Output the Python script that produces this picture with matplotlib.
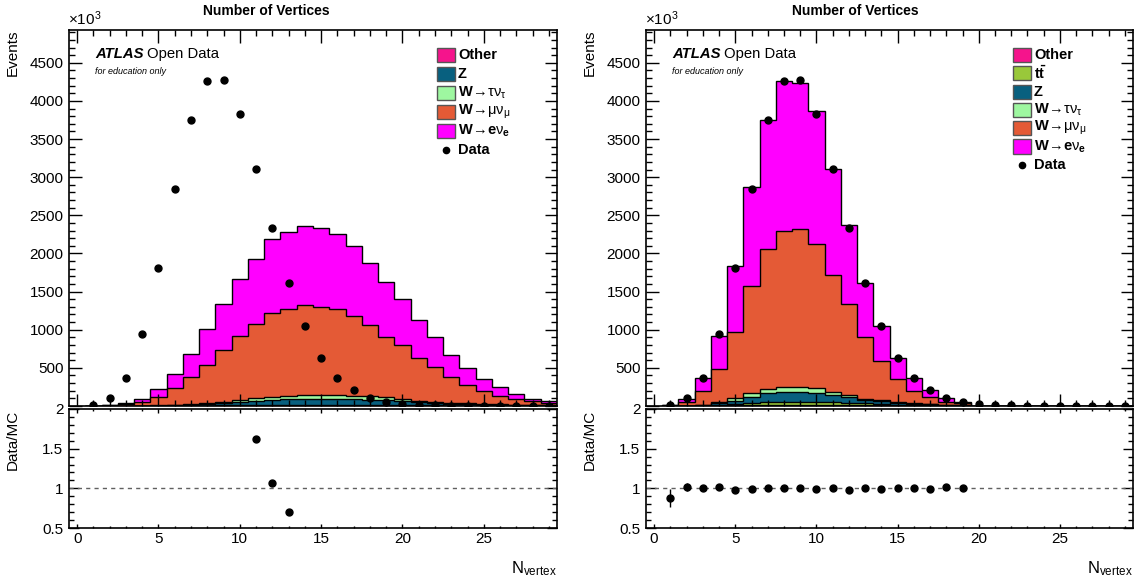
import numpy as np
import matplotlib
matplotlib.use("Agg")
import matplotlib.pyplot as plt
from matplotlib.patches import Rectangle
from matplotlib.lines import Line2D
from matplotlib.ticker import MultipleLocator, FuncFormatter

plt.rcParams['font.family'] = ['Liberation Sans', 'DejaVu Sans']
plt.rcParams['mathtext.fontset'] = 'custom'
plt.rcParams['mathtext.rm'] = 'Liberation Sans'
plt.rcParams['mathtext.it'] = 'Liberation Sans:italic'
plt.rcParams['mathtext.bf'] = 'Liberation Sans:bold'

# number of reconstructed vertices, bins centred on 1..29; counts in 10^3 events
nvtx = list(range(1, 30))
data = [15, 100, 366, 938, 1805, 2848, 3748, 4265, 4278, 3826, 3112, 2331, 1612, 1043,
        634, 368, 204, 106, 52, 28, 14, 7, 3, 1.5, 0.8, 0.4, 0.2, 0.1, 0.05]
data_err = [1.9, 4.9, 3.0, 4.0, 5.0, 6.0, 7.0, 7.0, 7.0, 7.0, 6.0, 5.0, 4.0, 3.0,
            2.5, 2.0, 1.5, 1.0, 0.8, 0.6, 0.4, 0.3, 0.2, 0.1, 0.1, 0.1, 0.1, 0.1, 0.1]

# left: MC without pile-up reweighting
other_l = [0, 0.2, 0.3, 0.6, 1, 2, 3, 5, 7, 9, 11, 13, 14, 15, 15, 15, 14, 13, 12, 10,
           8, 7, 6, 5, 4, 3, 3, 2, 2]
z_l = [0, 0.3, 0.7, 2.4, 4, 8, 14, 22, 33, 46, 57, 67, 75, 80, 81, 79, 76, 71, 65, 54,
       40, 31, 23, 18, 15, 12, 9, 8, 6]
wtau_l = [0, 0.5, 1, 1, 3, 5, 8, 13, 18, 25, 32, 38, 43, 47, 48, 46, 44, 41, 38, 31,
          22, 17, 13, 11, 8, 7, 6, 4, 4]
wmu_l = [0.5, 7, 20, 44, 112, 217, 351, 502, 673, 839, 972, 1098, 1145, 1183, 1160,
         1129, 1051, 942, 791, 702, 564, 453, 334, 246, 174, 109, 70, 48, 31]
wel_l = [2.5, 5, 13, 40, 99, 192, 311, 464, 603, 748, 853, 979, 1002, 1033, 1028, 988,
         910, 814, 717, 603, 499, 397, 297, 215, 157, 114, 65, 34, 23]

# right: MC after reweighting (includes ttbar)
other_r = [0.5, 1, 3, 6, 10, 13, 15, 16, 16, 15, 13, 11, 9, 7, 5, 4, 3, 2, 1.5,
           0, 0, 0, 0, 0, 0, 0, 0, 0, 0]
ttbar_r = [0.5, 1, 3, 9, 18, 27, 35, 40, 41, 40, 37, 31, 24, 18, 13, 8, 5, 3, 1.5,
           0, 0, 0, 0, 0, 0, 0, 0, 0, 0]
z_r = [1, 2, 6, 20, 42, 82, 116, 127, 125, 120, 94, 72, 46, 36, 24, 18, 12, 8, 7,
       0, 0, 0, 0, 0, 0, 0, 0, 0, 0]
wtau_r = [1, 2, 6, 15, 30, 42, 55, 65, 66, 60, 42, 28, 18, 13, 10, 8, 6, 4, 3,
          0, 0, 0, 0, 0, 0, 0, 0, 0, 0]
wmu_r = [5, 46, 179, 431, 867, 1415, 1835, 2049, 2075, 1895, 1533, 1192, 809, 513, 299,
         165, 94, 41, 23, 0, 0, 0, 0, 0, 0, 0, 0, 0, 0]
wel_r = [9, 46, 169, 439, 875, 1298, 1692, 1958, 1913, 1735, 1393, 1045, 706, 467, 277,
         165, 86, 46, 16, 0, 0, 0, 0, 0, 0, 0, 0, 0, 0]

COL = {"Other": "#f5148c", "ttbar": "#99c83a", "Z": "#08607f", "Wtau": "#9ef7a0",
       "Wmu": "#e45a36", "Wel": "#ff00ff"}
LAB = {"Other": "Other", "ttbar": r"$\mathbf{t\bar{t}}$", "Z": "Z",
       "Wtau": r"$\mathbf{W}\!\rightarrow\!\mathrm{τν}_{\mathrm{τ}}$",
       "Wmu": r"$\mathbf{W}\!\rightarrow\!\mathrm{μν}_{\mathrm{μ}}$",
       "Wel": r"$\mathbf{W}\!\rightarrow\!\mathbf{e}\mathrm{ν}_{\mathbf{e}}$"}

W, H = 1141, 580
fig = plt.figure(figsize=(W / 100, H / 100), dpi=100)


def fx(px):
    return px / W


def fy(py):
    return 1 - py / H


def rect(x0, x1, yt, yb):
    return [x0 / W, 1 - yb / H, (x1 - x0) / W, (yb - yt) / H]


def style(ax, major, minor, fs=11, tl=9, tlm=4.5):
    for s in ax.spines.values():
        s.set_linewidth(1.2)
    ax.tick_params(which="both", direction="in", top=True, right=True,
                   labelsize=fs, width=1.0, pad=4)
    ax.tick_params(which="major", length=tl)
    ax.tick_params(which="minor", length=tlm)
    ax.yaxis.set_major_locator(MultipleLocator(major))
    ax.yaxis.set_minor_locator(MultipleLocator(minor))
    ax.xaxis.set_major_locator(MultipleLocator(5))
    ax.xaxis.set_minor_locator(MultipleLocator(1))


def panel(x0, x1, comps, title_x, legend_x):
    top = fig.add_axes(rect(x0, x1, 30, 406))
    rat = fig.add_axes(rect(x0, x1, 409, 528))
    edges = np.arange(0.5, 30.5, 1.0)
    x = np.array(nvtx)
    d = np.array(data)
    # cumulative stack, drawn from the top component down
    cum = np.zeros(len(x))
    tops = []
    for key, vals in comps:
        cum = cum + np.array(vals, dtype=float)
        tops.append((key, cum.copy()))
    for key, c in reversed(tops):
        top.stairs(c, edges, baseline=0, fill=True, facecolor=COL[key],
                   edgecolor="black", linewidth=1.0)
    top.plot(x, d, "o", color="black", ms=5, zorder=5)
    top.errorbar(x, d, yerr=data_err, fmt="none", ecolor="black", lw=1.0, zorder=5)
    top.set_xlim(-0.5, 29.5)
    top.set_ylim(0, 4930)
    style(top, 500, 100)
    top.tick_params(labelbottom=False)
    top.yaxis.set_major_formatter(FuncFormatter(lambda v, p: "" if v == 0 else f"{v:.0f}"))

    total = tops[-1][1]
    with np.errstate(divide="ignore", invalid="ignore"):
        ratio = np.where(total > 0, d / total, np.nan)
        rerr = np.where(total > 0, np.array(data_err) / total, np.nan)
    rat.axhline(1.0, color="#606060", lw=1.0, ls=(0, (3, 3)))
    rat.errorbar(x, ratio, yerr=rerr, fmt="o", color="black", ms=5, lw=1.0)
    rat.set_xlim(-0.5, 29.5)
    rat.set_ylim(0.5, 2.0)
    style(rat, 0.5, 0.1, tl=7, tlm=3.5)
    rat.tick_params(axis="x", which="major", length=3)
    rat.tick_params(axis="x", which="minor", length=1.5)
    rat.tick_params(axis="x", pad=3)
    rat.set_yticks([0.5, 1, 1.5, 2])
    rat.set_yticklabels(["0.5", "1", "1.5", "2"])

    fig.text(title_x / W, fy(11), "Number of Vertices", ha="center", va="center",
             fontsize=10, fontweight="bold")
    fig.text((x0 - 1) / W, fy(28), r"$\times$10$^{3}$", ha="left", va="bottom",
             fontsize=11)
    fig.text((x0 - 56) / W, fy(30), "Events", rotation=90, ha="center", va="top",
             fontsize=11)
    fig.text((x0 - 56) / W, fy(410), "Data/MC", rotation=90, ha="center", va="top",
             fontsize=11)
    fig.text(x1 / W, fy(578), r"N$_{\mathrm{vertex}}$", ha="right", va="bottom",
             fontsize=12)
    fig.text((x0 + 26) / W, fy(54), "ATLAS", ha="left", va="center",
             fontsize=10.7, fontweight="bold", style="italic")
    fig.text((x0 + 78) / W, fy(54), "Open Data", ha="left", va="center", fontsize=10.7)
    fig.text((x0 + 26) / W, fy(72), "for education only", ha="left", va="center",
             fontsize=6.5, style="italic")

    # legend, bottom of the stack listed first
    rows = [k for k, _ in comps]
    row_h = 19 if len(rows) == 5 else 18.3
    for i, key in enumerate(rows + ["Data"]):
        yc = 55 + i * row_h
        if key == "Data":
            fig.add_artist(Line2D([fx(legend_x + 9)], [fy(yc)], marker="o", ms=4.5,
                                  color="black", ls="none"))
            lab = "Data"
        else:
            fig.add_artist(Rectangle((fx(legend_x), fy(yc + 7)), 18 / W, 14 / H,
                                     facecolor=COL[key], edgecolor="#555555", lw=1.0))
            lab = LAB[key]
        fig.text(fx(legend_x + 21), fy(yc), lab, ha="left", va="center",
                 fontsize=10.5, fontweight="bold")


panel(69, 557, [("Other", other_l), ("Z", z_l), ("Wtau", wtau_l), ("Wmu", wmu_l),
                ("Wel", wel_l)], 266, 437)
panel(646, 1133, [("Other", other_r), ("ttbar", ttbar_r), ("Z", z_r), ("Wtau", wtau_r),
                  ("Wmu", wmu_r), ("Wel", wel_r)], 855, 1013)

fig.savefig("out.png", dpi=100)
